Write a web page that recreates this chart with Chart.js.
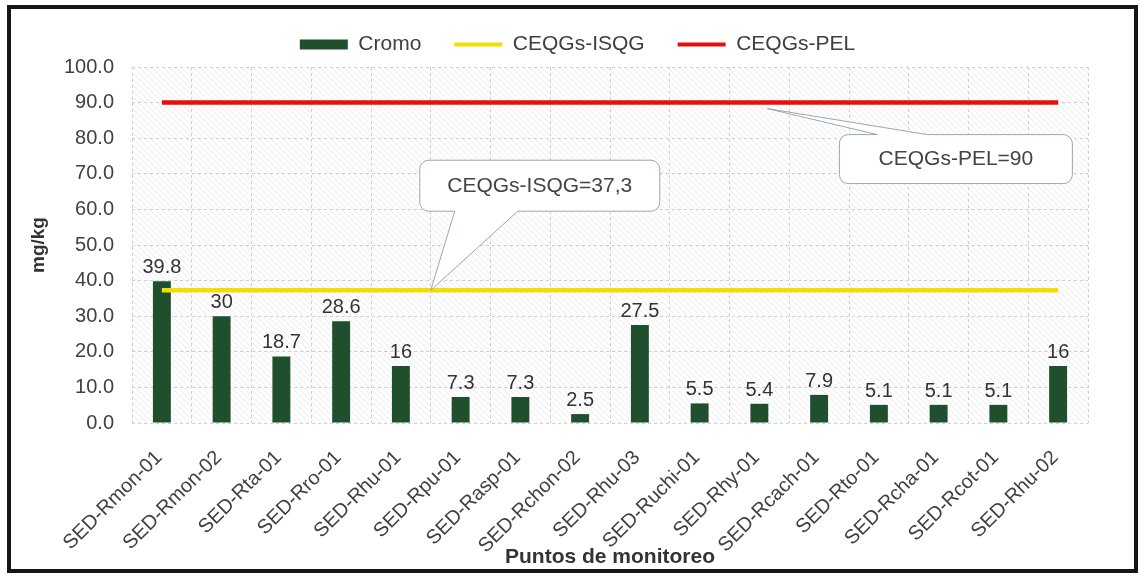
<!DOCTYPE html>
<html>
<head>
<meta charset="utf-8">
<script src="https://cdn.jsdelivr.net/npm/chart.js@4.4.1/dist/chart.umd.min.js"></script>
<style>
    body { margin: 0; background: #fff; }
    #wrap { position: relative; width: 1140px; height: 577px; }
    #chromeChart { position: absolute; left: 0; top: 0; }
    #frame { position: absolute; left: 7px; top: 5px; width: 1123px; height: 560px; border: 4px solid #161616; pointer-events: none; }
</style>
</head>
<body>
<div id="wrap">
    <canvas id="chromeChart" width="1140" height="577"></canvas>
    <div id="frame"></div>
</div>
<script>
var puntos = ['SED-Rmon-01', 'SED-Rmon-02', 'SED-Rta-01', 'SED-Rro-01', 'SED-Rhu-01', 'SED-Rpu-01', 'SED-Rasp-01', 'SED-Rchon-02',
    'SED-Rhu-03', 'SED-Ruchi-01', 'SED-Rhy-01', 'SED-Rcach-01', 'SED-Rto-01', 'SED-Rcha-01', 'SED-Rcot-01', 'SED-Rhu-02'];
var cromo = [39.8, 30, 18.7, 28.6, 16, 7.3, 7.3, 2.5, 27.5, 5.5, 5.4, 7.9, 5.1, 5.1, 5.1, 16];
var isqg = [37.3, 37.3, 37.3, 37.3, 37.3, 37.3, 37.3, 37.3, 37.3, 37.3, 37.3, 37.3, 37.3, 37.3, 37.3, 37.3];
var pel = [90, 90, 90, 90, 90, 90, 90, 90, 90, 90, 90, 90, 90, 90, 90, 90];
var yTicks = [0, 10, 20, 30, 40, 50, 60, 70, 80, 90, 100];

var textColor = '#404040';
var gridColor = '#c9d0da';
var fontFam = '"Liberation Sans", Arial, sans-serif';

// hatched plot background, like the excel fill
var hatchPlugin = {
    id: 'hatch',
    afterInit: function(chart) {
        // a bit more room under the legend
        var fit = chart.legend.fit;
        chart.legend.fit = function() {
            fit.call(this);
            this.height += 2;
        };
    },
    afterLayout: function(chart) {
        // legend sits a little right of centre in the original
        chart.legend.left += 55;
    },
    beforeDraw: function(chart) {
        var ctx = chart.ctx, a = chart.chartArea;
        var pc = document.createElement('canvas');
        pc.width = 6; pc.height = 6;
        var p = pc.getContext('2d');
        p.strokeStyle = '#ececec';
        p.lineWidth = 1;
        p.beginPath();
        p.moveTo(0, 0); p.lineTo(6, 6);
        p.moveTo(-3, 3); p.lineTo(3, 9);
        p.moveTo(3, -3); p.lineTo(9, 3);
        p.stroke();
        ctx.save();
        ctx.fillStyle = ctx.createPattern(pc, 'repeat');
        ctx.fillRect(a.left, a.top, a.right - a.left, a.bottom - a.top);
        ctx.restore();
    }
};

var barLabels = {
    id: 'barLabels',
    afterDatasetsDraw: function(chart) {
        var ctx = chart.ctx;
        var meta = chart.getDatasetMeta(0);
        ctx.save();
        ctx.font = '20px ' + fontFam;
        ctx.fillStyle = '#333';
        ctx.textAlign = 'center';
        ctx.textBaseline = 'alphabetic';
        meta.data.forEach(function(bar, i) {
            ctx.fillText(String(cromo[i]), bar.x, bar.y - 8);
        });
        ctx.restore();
    }
};

function callout(ctx, box, base1, base2, tip, text) {
    var r = 9;
    ctx.save();
    ctx.beginPath();
    ctx.moveTo(box.x + r, box.y);
    if (box.topBase) {
        ctx.lineTo(base1, box.y);
        ctx.lineTo(tip.x, tip.y);
        ctx.lineTo(base2, box.y);
    }
    ctx.lineTo(box.x + box.w - r, box.y);
    ctx.arcTo(box.x + box.w, box.y, box.x + box.w, box.y + r, r);
    ctx.lineTo(box.x + box.w, box.y + box.h - r);
    ctx.arcTo(box.x + box.w, box.y + box.h, box.x + box.w - r, box.y + box.h, r);
    if (!box.topBase) {
        ctx.lineTo(base2, box.y + box.h);
        ctx.lineTo(tip.x, tip.y);
        ctx.lineTo(base1, box.y + box.h);
    }
    ctx.lineTo(box.x + r, box.y + box.h);
    ctx.arcTo(box.x, box.y + box.h, box.x, box.y + box.h - r, r);
    ctx.lineTo(box.x, box.y + r);
    ctx.arcTo(box.x, box.y, box.x + r, box.y, r);
    ctx.closePath();
    ctx.fillStyle = '#fff';
    ctx.fill();
    ctx.strokeStyle = '#9aa6b4';
    ctx.lineWidth = 1;
    ctx.stroke();
    ctx.font = '21px ' + fontFam;
    ctx.fillStyle = '#444';
    ctx.textAlign = 'center';
    ctx.textBaseline = 'middle';
    ctx.fillText(text, box.x + box.w / 2, box.y + box.h / 2);
    ctx.restore();
}

var callouts = {
    id: 'callouts',
    afterDraw: function(chart) {
        var ctx = chart.ctx, x = chart.scales.x, y = chart.scales.y;
        // ISQG: tip on the line between SED-Rhu-01 and SED-Rpu-01
        var t1 = { x: (x.getPixelForValue(4) + x.getPixelForValue(5)) / 2, y: y.getPixelForValue(isqg[0]) };
        callout(ctx, { x: t1.x - 11, y: t1.y - 130, w: 240, h: 51 }, t1.x + 24, t1.x + 87, t1, 'CEQGs-ISQG=' + String(isqg[0]).replace('.', ','));
        // PEL
        var t2 = { x: x.getPixelForValue(10) + 8, y: y.getPixelForValue(pel[0]) + 6 };
        callout(ctx, { x: t2.x + 72, y: t2.y + 26, w: 233, h: 49, topBase: true }, t2.x + 110, t2.x + 160, t2, 'CEQGs-PEL=' + pel[0]);
    }
};

var ctx = document.getElementById('chromeChart').getContext('2d');
new Chart(ctx, {
    type: 'bar',
    data: {
        labels: puntos,
        datasets: [{
            label: 'Cromo',
            data: cromo,
            backgroundColor: '#1f4f2c',
            borderWidth: 0,
            barPercentage: 0.3,
            categoryPercentage: 1,
            order: 2
        }, {
            type: 'line',
            label: 'CEQGs-ISQG',
            data: isqg,
            borderColor: '#f2de00',
            backgroundColor: '#f2de00',
            borderWidth: 4.5,
            pointRadius: 0,
            order: 1
        }, {
            type: 'line',
            label: 'CEQGs-PEL',
            data: pel,
            borderColor: '#e3100f',
            backgroundColor: '#e3100f',
            borderWidth: 4.5,
            pointRadius: 0,
            order: 1
        }]
    },
    options: {
        responsive: false,
        animation: false,
        layout: {
            padding: { top: 1, left: 12, right: 52, bottom: 7 }
        },
        plugins: {
            legend: {
                display: true,
                position: 'top',
                labels: {
                    color: textColor,
                    font: { size: 21, family: fontFam },
                    usePointStyle: true,
                    pointStyleWidth: 48,
                    boxHeight: 10,
                    padding: 33,
                    sort: function(a, b) { return a.datasetIndex - b.datasetIndex; },
                    generateLabels: function(chart) {
                        var items = Chart.defaults.plugins.legend.labels.generateLabels(chart);
                        items.forEach(function(it) {
                            var ds = chart.data.datasets[it.datasetIndex];
                            if (it.datasetIndex === 0) {
                                it.pointStyle = 'rect';
                                it.fillStyle = ds.backgroundColor;
                                it.strokeStyle = ds.backgroundColor;
                                it.lineWidth = 0;
                            } else {
                                it.pointStyle = 'line';
                                it.strokeStyle = ds.borderColor;
                                it.lineWidth = 4;
                            }
                        });
                        return items;
                    }
                }
            },
            tooltip: { enabled: false }
        },
        scales: {
            x: {
                grid: { color: gridColor, drawTicks: false, offset: true },
                border: { display: false, dash: [3, 3] },
                ticks: {
                    color: textColor,
                    font: { size: 20, family: fontFam },
                    minRotation: 45,
                    maxRotation: 45,
                    padding: 23,
                    labelOffset: -3,
                    autoSkip: false
                },
                title: {
                    display: true,
                    text: 'Puntos de monitoreo',
                    color: '#333',
                    font: { size: 21, weight: 'bold', family: fontFam },
                    padding: { top: 0, bottom: 0 }
                },
                afterFit: function(scale) { scale.height = 147; }
            },
            y: {
                min: 0,
                max: 100,
                afterBuildTicks: function(scale) {
                    scale.ticks = yTicks.map(function(v) { return { value: v }; });
                },
                grid: { color: gridColor, drawTicks: false },
                border: { display: false, dash: [3, 3] },
                ticks: {
                    color: textColor,
                    font: { size: 20, family: fontFam },
                    padding: 18,
                    callback: function(v) { return v.toFixed(1); }
                },
                title: {
                    display: true,
                    text: 'mg/kg',
                    color: '#333',
                    font: { size: 19, weight: 'bold', family: fontFam },
                    padding: { top: 15, bottom: 0 }
                },
                afterFit: function(scale) { scale.width = 120; }
            }
        }
    },
    plugins: [hatchPlugin, barLabels, callouts]
});
</script>
</body>
</html>
